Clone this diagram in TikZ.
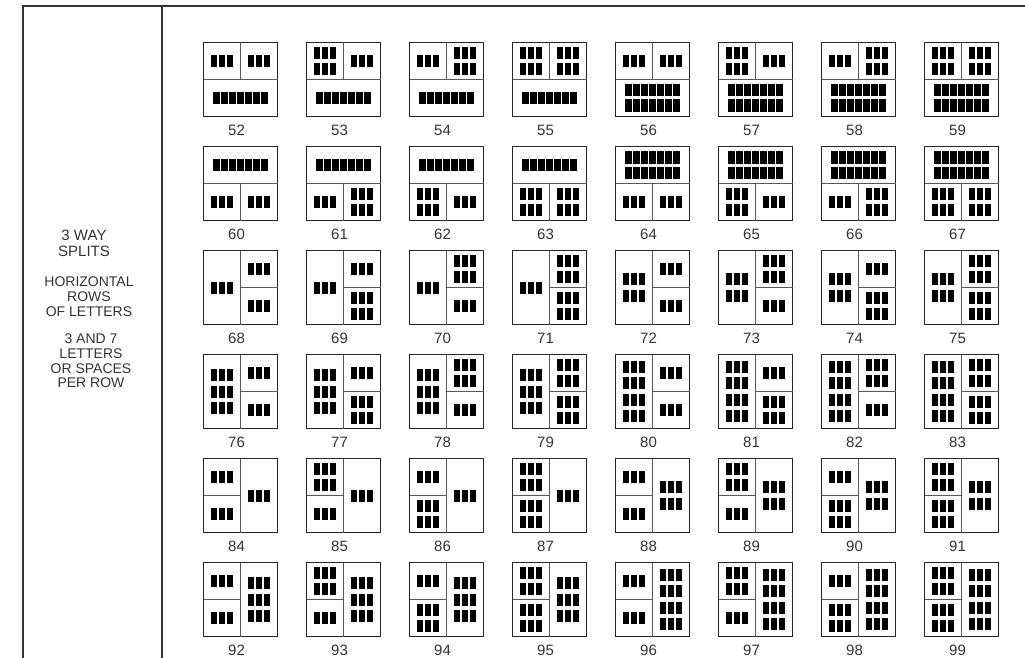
\documentclass[tikz,border=0pt]{standalone}
\usepackage{fontspec}
\setmainfont{Liberation Sans}
\usetikzlibrary{positioning}

% one cluster of letter blocks: centre x, centre y, letters per row, rows
\newcommand{\lettergroup}[4]{%
  \ifnum#3=7 \def\ltrp{8}\def\ltrw{6.2}\def\ltrh{12.5}\def\rowp{15.5}\else\def\ltrp{8}\def\ltrw{6.4}\def\ltrh{12}\def\rowp{16.2}\fi
  \foreach \ri in {1,...,#4}{%
    \foreach \ci in {1,...,#3}{%
      \fill[letter] ({#1+(\ci-(#3+1)/2)*\ltrp-\ltrw/2}, {#2+(\ri-(#4+1)/2)*\rowp-\ltrh/2}) rectangle ++(\ltrw,\ltrh);
    }}}
% the four ways of splitting a box in three
\newcommand{\layoutA}[3]{% two on top, one below
  \draw[divider] (0,37) -- (74,37) (37,0) -- (37,37);
  \lettergroup{18.5}{18.5}{3}{#1}\lettergroup{55.5}{18.5}{3}{#2}\lettergroup{37}{55.5}{7}{#3}}
\newcommand{\layoutB}[3]{% one on top, two below
  \draw[divider] (0,37) -- (74,37) (37,37) -- (37,74);
  \lettergroup{37}{18.5}{7}{#1}\lettergroup{18.5}{55.5}{3}{#2}\lettergroup{55.5}{55.5}{3}{#3}}
\newcommand{\layoutC}[3]{% one on the left, two on the right
  \draw[divider] (37,0) -- (37,74) (37,37) -- (74,37);
  \lettergroup{18.5}{37}{3}{#1}\lettergroup{55.5}{18.5}{3}{#2}\lettergroup{55.5}{55.5}{3}{#3}}
\newcommand{\layoutD}[3]{% two on the left, one on the right
  \draw[divider] (37,0) -- (37,74) (0,37) -- (37,37);
  \lettergroup{18.5}{18.5}{3}{#1}\lettergroup{18.5}{55.5}{3}{#2}\lettergroup{55.5}{37}{3}{#3}}

\begin{document}
\begin{tikzpicture}[x=1pt, y=-1pt,
  frame/.style={line width=1.8pt, black!80},
  splitbox/.style={draw=black!85, line width=1.8pt, minimum width=74pt, minimum height=74pt, inner sep=0pt, outer sep=0pt, anchor=north west},
  divider/.style={line width=1pt, black!65},
  letter/.style={fill=black},
  numlabel/.style={font=\fontsize{15}{15}\selectfont, inner sep=0pt, text=black!80},
  sidetext/.style={font=\fontsize{14}{14.7}\selectfont, align=center, inner sep=0pt, text=black!80}]
  \useasboundingbox (0,0) rectangle (1025,658);
  % frame
  \draw[frame] (23,658) -- (23,6) -- (1025,6);
  \draw[frame] (162,6) -- (162,658);
  % side caption
  \node[sidetext, font=\fontsize{15}{16}\selectfont, anchor=north] (title) at (84,230) {3 WAY\\SPLITS};
  \node[sidetext, below=20pt of title, xshift=5pt] (rows) {HORIZONTAL\\ROWS\\OF LETTERS};
  \node[sidetext, below=17pt of rows, xshift=2pt] (perrow) {3 AND 7\\LETTERS\\OR SPACES\\PER ROW};
  % the 48 split boxes
  \foreach \n/\lay/\ra/\rb/\rc in {
      52/A/1/1/1, 53/A/2/1/1, 54/A/1/2/1, 55/A/2/2/1, 56/A/1/1/2, 57/A/2/1/2, 58/A/1/2/2, 59/A/2/2/2,
      60/B/1/1/1, 61/B/1/1/2, 62/B/1/2/1, 63/B/1/2/2, 64/B/2/1/1, 65/B/2/2/1, 66/B/2/1/2, 67/B/2/2/2,
      68/C/1/1/1, 69/C/1/1/2, 70/C/1/2/1, 71/C/1/2/2, 72/C/2/1/1, 73/C/2/2/1, 74/C/2/1/2, 75/C/2/2/2,
      76/C/3/1/1, 77/C/3/1/2, 78/C/3/2/1, 79/C/3/2/2, 80/C/4/1/1, 81/C/4/1/2, 82/C/4/2/1, 83/C/4/2/2,
      84/D/1/1/1, 85/D/2/1/1, 86/D/1/2/1, 87/D/2/2/1, 88/D/1/1/2, 89/D/2/1/2, 90/D/1/2/2, 91/D/2/2/2,
      92/D/1/1/3, 93/D/2/1/3, 94/D/1/2/3, 95/D/2/2/3, 96/D/1/1/4, 97/D/2/1/4, 98/D/1/2/4, 99/D/2/2/4}{
    \pgfmathtruncatemacro{\bcol}{mod(\n-52,8)}
    \pgfmathtruncatemacro{\brow}{(\n-52)/8}
    \node[splitbox] (b\n) at ({203.5+\bcol*103}, {42.5+\brow*104}) {};
    \node[numlabel, below=8pt of b\n.south, xshift=-4pt] (l\n) {\n};
    \begin{scope}[shift={(b\n.north west)}]
      \csname layout\lay\endcsname{\ra}{\rb}{\rc}
    \end{scope}
  }
\end{tikzpicture}
\end{document}
